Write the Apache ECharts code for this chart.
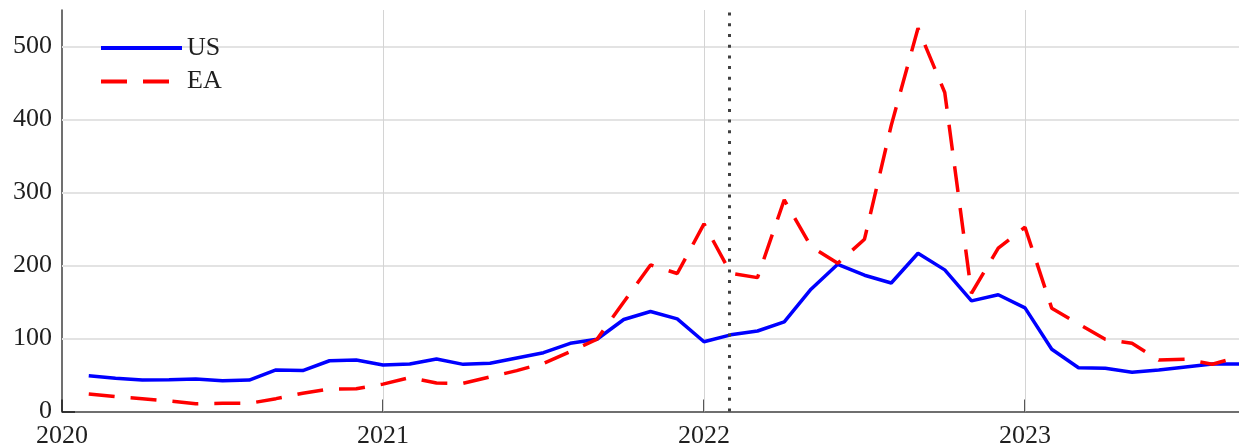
<!DOCTYPE html>
<html>
<head>
<meta charset="utf-8">
<script src="https://cdn.jsdelivr.net/npm/echarts@6/dist/echarts.min.js"></script>
<style>
  html, body { margin: 0; padding: 0; background: #ffffff; }
  #chart { width: 1239px; height: 447px; }
</style>
</head>
<body>
<div id="chart"></div>
<script>
// Monthly observations, Feb 2020 – Sep 2023
const months = [
  '2020-02','2020-03','2020-04','2020-05','2020-06','2020-07','2020-08','2020-09','2020-10','2020-11','2020-12',
  '2021-01','2021-02','2021-03','2021-04','2021-05','2021-06','2021-07','2021-08','2021-09','2021-10','2021-11','2021-12',
  '2022-01','2022-02','2022-03','2022-04','2022-05','2022-06','2022-07','2022-08','2022-09','2022-10','2022-11','2022-12',
  '2023-01','2023-02','2023-03','2023-04','2023-05','2023-06','2023-07','2023-08','2023-09'
];

const usValues = [
  49, 45.5, 43, 43.5, 44.5, 42, 43, 57, 56, 69.5, 70.5,
  63.7, 65, 72, 64.6, 66, 73.3, 80.6, 93.4, 99, 126, 137, 126.8,
  95.5, 105, 110.3, 122.7, 167.5, 201.7, 186.7, 176, 216.8, 194, 151.5, 160,
  141.9, 85.2, 60, 59.2, 53.7, 56.9, 61, 65, 65
];

const eaValues = [
  24, 20.3, 17.6, 14.4, 10.7, 11.2, 11.2, 17.6, 25, 30.8, 31.3,
  37.5, 46.4, 39, 38.6, 47.3, 56, 66, 82, 99, 150, 200.8, 189,
  257, 189.5, 183.4, 290, 226, 203, 236, 392, 525, 437, 162, 223.7,
  252.4, 141.4, 120, 99, 93.4, 70.6, 71.5, 64.7, 75
];

const yTicks = [0, 100, 200, 300, 400, 500];
const xTicks = [2020, 2021, 2022, 2023];
const eventMonth = '2022-02';

// convert 'YYYY-MM' to a fractional year for the value axis
function toYear(m) {
  const [y, mo] = m.split('-').map(Number);
  return y + (mo - 1) / 12;
}

const xs = months.map(toYear);
const usData = xs.map((x, i) => [x, usValues[i]]);
const eaData = xs.map((x, i) => [x, eaValues[i]]);

const FONT = 'Liberation Serif';
const AXIS_COLOR = '#404040';
const TEXT_COLOR = '#1f1f1f';

const chart = echarts.init(document.getElementById('chart'), null, { renderer: 'canvas' });

chart.setOption({
  animation: false,
  backgroundColor: '#ffffff',
  grid: { left: 62, right: 0, top: 10, bottom: 35.5, containLabel: false, outerBoundsMode: 'none' },
  legend: {
    data: ['US', 'EA'],
    orient: 'vertical',
    left: 94,
    top: 28,
    itemWidth: 81,
    itemHeight: 4,
    itemGap: 3.5,
    z: 10,
    // keys are the series' own line strokes, no point markers
    itemStyle: { opacity: 0, borderWidth: 0 },
    lineStyle: { width: 4 },
    textStyle: { fontFamily: FONT, fontSize: 26, color: TEXT_COLOR, lineHeight: 30 }
  },
  xAxis: {
    type: 'value',
    min: xTicks[0],
    max: toYear(months[months.length - 1]),
    interval: 1,
    axisLine: { show: true, lineStyle: { color: AXIS_COLOR, width: 1.5 } },
    axisTick: { show: true, inside: true, length: 12, lineStyle: { color: '#202020', width: 1.5 }, customValues: xTicks },
    axisLabel: {
      customValues: xTicks,
      formatter: v => String(Math.round(v)),
      fontFamily: FONT, fontSize: 26, color: TEXT_COLOR, margin: 12
    },
    splitLine: { show: false }
  },
  yAxis: {
    type: 'value',
    min: 0,
    max: 550,
    interval: 100,
    axisLine: { show: true, lineStyle: { color: AXIS_COLOR, width: 1.5 } },
    axisTick: { show: true, inside: true, length: 13, lineStyle: { color: '#202020', width: 1.5 }, customValues: yTicks },
    axisLabel: {
      customValues: yTicks,
      formatter: v => String(v),
      fontFamily: FONT, fontSize: 26, color: TEXT_COLOR, margin: 10
    },
    splitLine: { show: false }
  },
  series: [
    {
      // background grid lines, kept beneath the data lines
      name: 'grid',
      type: 'line',
      data: [],
      z: 1,
      silent: true,
      markLine: {
        z: 1,
        silent: true,
        symbol: ['none', 'none'],
        label: { show: false },
        animation: false,
        data: [
          ...yTicks.slice(1).map(v => ({ yAxis: v, lineStyle: { color: '#e3e3e3', width: 2, type: 'solid' } })),
          ...xTicks.slice(1).map(v => ({ xAxis: v, lineStyle: { color: '#d4d4d4', width: 1, type: 'solid' } }))
        ]
      }
    },
    {
      name: 'US',
      type: 'line',
      data: usData,
      symbol: 'none',
      z: 3,
      lineStyle: { color: '#0000ff', width: 3.5 },
      itemStyle: { color: '#0000ff' }
    },
    {
      name: 'EA',
      type: 'line',
      data: eaData,
      symbol: 'none',
      z: 4,
      lineStyle: { color: '#ff0000', width: 3.5, type: [26, 16] },
      itemStyle: { color: '#ff0000' }
    },
    {
      // event marker
      name: 'event',
      type: 'line',
      data: [],
      z: 5,
      silent: true,
      markLine: {
        z: 6,
        silent: true,
        symbol: ['none', 'none'],
        label: { show: false },
        animation: false,
        data: [{ xAxis: toYear(eventMonth), lineStyle: { color: '#404040', width: 3, type: [3, 7.7] } }]
      }
    }
  ]
});
</script>
</body>
</html>
